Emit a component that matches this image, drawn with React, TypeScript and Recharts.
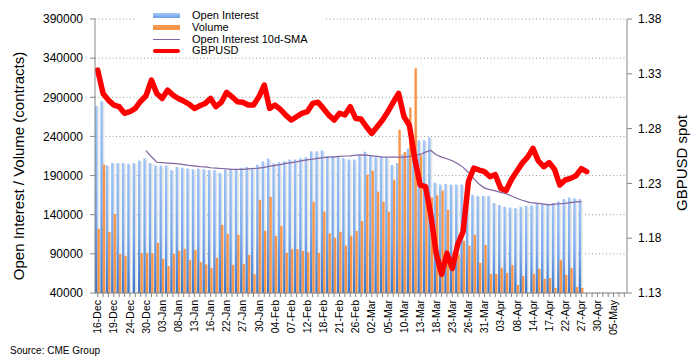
import React from 'react';
import { ComposedChart, Bar, Line, XAxis, YAxis, CartesianGrid } from 'recharts';

// trading days shown on the category axis (a label every third day)
const dates = [
  '16-Dec', '17-Dec', '18-Dec', '19-Dec', '20-Dec', '23-Dec', '24-Dec', '26-Dec', '27-Dec', '30-Dec',
  '31-Dec', '02-Jan', '03-Jan', '06-Jan', '07-Jan', '08-Jan', '09-Jan', '10-Jan', '13-Jan', '14-Jan',
  '15-Jan', '16-Jan', '17-Jan', '21-Jan', '22-Jan', '23-Jan', '24-Jan', '27-Jan', '28-Jan', '29-Jan',
  '30-Jan', '31-Jan', '03-Feb', '04-Feb', '05-Feb', '06-Feb', '07-Feb', '10-Feb', '11-Feb', '12-Feb',
  '13-Feb', '14-Feb', '18-Feb', '19-Feb', '20-Feb', '21-Feb', '24-Feb', '25-Feb', '26-Feb', '27-Feb',
  '28-Feb', '02-Mar', '03-Mar', '04-Mar', '05-Mar', '06-Mar', '09-Mar', '10-Mar', '11-Mar', '12-Mar',
  '13-Mar', '16-Mar', '17-Mar', '18-Mar', '19-Mar', '20-Mar', '23-Mar', '24-Mar', '25-Mar', '26-Mar',
  '27-Mar', '30-Mar', '31-Mar', '01-Apr', '02-Apr', '03-Apr', '06-Apr', '07-Apr', '08-Apr', '09-Apr',
  '13-Apr', '14-Apr', '15-Apr', '16-Apr', '17-Apr', '20-Apr', '21-Apr', '22-Apr', '23-Apr', '24-Apr',
  '27-Apr', '28-Apr', '29-Apr', '30-Apr', '01-May', '04-May', '05-May', '06-May', '07-May',
];

const openInterest = [
  279000, 285000, 203000, 206000, 206000, 206000, 205000, 206000, 209000, 212000,
  206000, 203000, 203000, 203000, 197000, 201000, 200000, 199000, 198000, 199000,
  198000, 197000, 197000, 193500, 197500, 197500, 197500, 200000, 201000, 200000,
  204000, 208000, 211500, 205500, 207000, 208500, 210500, 210500, 212000, 213500,
  221000, 221000, 222000, 215000, 215000, 213500, 212500, 210500, 210500, 215500,
  220500, 216000, 213500, 213500, 212500, 203500, 206000, 217000, 224500, 219000,
  235000, 235000, 239000, 181000, 178500, 179500, 178500, 178500, 178500, 169500,
  165500, 164000, 164000, 164000, 155000, 152500, 150200, 149200, 148500, 150200,
  151500, 152000, 154500, 154000, 154000, 155000, 157000, 160000, 162000, 161000,
  160000,
];

const volume = [
  122000, 204000, 118000, 141000, 90000, 87500, null, null, 91000, 91000,
  91000, 104000, 83500, 74500, 90000, 94000, 96500, 82000, 95000, 79500,
  76500, 72000, 85000, 127000, 115500, 76000, 114500, 77000, 88500, 64000,
  159000, 119500, 163000, 113000, 125800, 91400, 96000, 96000, 93800, 92000,
  156700, 91400, 143900, 116000, 110600, 118200, 100500, 113000, 119300, 132000,
  191000, 196000, 169500, 156700, 143900, 184600, 248600, 220000, 277000, 327000,
  216000, 178000, 162000, 164800, 170800, 146200, 92000, 88600, 106600, 100400,
  114300, 78600, 101400, 64400, 64400, 72100, 65600, 75900, 50300, 61800,
  null, 64400, 70800, 58000, 59200, 46400, 82300, 63100, 72100, 47700,
  46400,
];

const oiSma = [
  null, null, null, null, null, null, null, null, null, 222000,
  214000, 207000, 206500, 206000, 205500, 205000, 204000, 203000, 202500, 201500,
  201000, 200000, 199500, 199000, 198500, 198000, 198000, 198000, 198500, 199000,
  199500, 200500, 202000, 203000, 204000, 205500, 206500, 207500, 209000, 210000,
  211000, 212000, 213000, 213500, 214000, 214500, 215000, 215200, 216000, 216500,
  216000, 215200, 214500, 213500, 213500, 213500, 213500, 213500, 214500, 216000,
  217000, 220000, 222000, 216500, 213500, 211500, 209000, 205000, 200500, 194000,
  186000, 179000, 174000, 172000, 170500, 168500, 167000, 164000, 161000, 158500,
  156500, 155000, 154600, 153500, 152500, 153500, 154000, 154600, 155500, 156500,
  156600,
];

const gbpusd = [
  1.3334, 1.3121, 1.306, 1.3015, 1.3, 1.294, 1.2954, 1.2984, 1.305, 1.31,
  1.3243, 1.3121, 1.3075, 1.3151, 1.3106, 1.3075, 1.3051, 1.3024, 1.2984, 1.3008,
  1.303, 1.3075, 1.3, 1.304, 1.313, 1.309, 1.3045, 1.304, 1.3015, 1.3015,
  1.309, 1.3197, 1.2984, 1.3015, 1.2975, 1.2923, 1.2878, 1.2908, 1.2939, 1.2954,
  1.303, 1.304, 1.2984, 1.2923, 1.2878, 1.294, 1.2925, 1.3, 1.2893, 1.2887,
  1.2817, 1.2756, 1.2817, 1.2878, 1.2954, 1.3039, 1.3121, 1.2908, 1.283, 1.2528,
  1.2285, 1.227, 1.2011, 1.166, 1.147, 1.1662, 1.1525, 1.1745, 1.186, 1.232,
  1.244, 1.2422, 1.2407, 1.2361, 1.238, 1.2255, 1.2235, 1.2335, 1.241, 1.2485,
  1.254, 1.262, 1.2505, 1.2452, 1.249, 1.243, 1.2285, 1.2331, 1.2346, 1.237,
  1.2435, 1.2407,
];

const leftTicks = [40000, 90000, 140000, 190000, 240000, 290000, 340000, 390000];
const rightTicks = [1.13, 1.18, 1.23, 1.28, 1.33, 1.38];

const chartData = dates.map((date, i) => ({
  date,
  oi: openInterest[i] ?? null,
  vol: volume[i] ?? null,
  sma: oiSma[i] ?? null,
  spot: gbpusd[i] ?? null,
}));

const FONT = '"Liberation Sans", Arial, Helvetica, sans-serif';

const legendItems = [
  { name: 'Open Interest', kind: 'bar', color: '#7fb0ee' },
  { name: 'Volume', kind: 'bar', color: '#f7964a' },
  { name: 'Open Interest 10d-SMA', kind: 'thin', color: '#8064a2' },
  { name: 'GBPUSD', kind: 'thick', color: '#ff0000' },
];

// blue open-interest bar with the soft grey shadow excel puts beside it
const OiBar = (props: any) => {
  const { x, y, width, height } = props;
  if (!height || height <= 0) return <g />;
  return (
    <g>
      <rect x={x + width} y={y + 1} width={width * 0.8} height={height - 1} fill="url(#oiShadow)" />
      <rect x={x} y={y} width={width} height={height} fill="url(#oiGrad)" />
    </g>
  );
};

const DateTick = (props: any) => {
  const { x, y, payload, index } = props;
  if (index % 3 !== 0) return <g />;
  return (
    <text
      x={x}
      y={y}
      transform={`rotate(-90 ${x} ${y})`}
      textAnchor="end"
      dy="0.35em"
      fontSize={10.5}
      fontFamily={FONT}
      fill="#000"
    >
      {payload.value}
    </text>
  );
};

const axisTitle = (text: string, cx: number, cy: number) => () => (
  <text
    x={cx}
    y={cy}
    transform={`rotate(-90 ${cx} ${cy})`}
    textAnchor="middle"
    dominantBaseline="central"
    fontSize={15}
    fontFamily={FONT}
    fill="#000"
  >
    {text}
  </text>
);

export default function App() {
  return (
    <div style={{ position: 'absolute', left: 0, top: 0, width: 697, height: 363, background: '#fff', fontFamily: FONT }}>
      <ComposedChart
        width={697}
        height={363}
        data={chartData}
        margin={{ top: 19, right: 0, bottom: 20, left: 0 }}
        barGap={0}
        barCategoryGap={0}
      >
        <defs>
          <linearGradient id="oiGrad" x1="0" y1="0" x2="0" y2="1">
            <stop offset="0%" stopColor="#9ec4f7" />
            <stop offset="55%" stopColor="#7aaaec" />
            <stop offset="100%" stopColor="#3b77c9" />
          </linearGradient>
          <linearGradient id="oiShadow" x1="0" y1="0" x2="1" y2="0">
            <stop offset="0%" stopColor="#dcdcdc" />
            <stop offset="100%" stopColor="#f4f4f4" />
          </linearGradient>
        </defs>
        <CartesianGrid
          yAxisId="left"
          vertical={false}
          stroke="#9a9a9a"
          strokeDasharray="1 2.5"
        />
        <XAxis
          dataKey="date"
          interval={0}
          height={50}
          tick={DateTick}
          tickSize={4}
          tickMargin={3}
          axisLine={{ stroke: '#868686' }}
          tickLine={{ stroke: '#868686' }}
        />
        <YAxis
          yAxisId="left"
          width={95}
          domain={[40000, 390000]}
          ticks={leftTicks}
          allowDataOverflow
          tickSize={5}
          tickMargin={7}
          tick={{ fontSize: 12, fill: '#000', fontFamily: FONT }}
          axisLine={{ stroke: '#868686' }}
          tickLine={{ stroke: '#868686' }}
          label={{ content: axisTitle('Open Interest / Volume (contracts)', 18, 166) }}
        />
        <YAxis
          yAxisId="right"
          orientation="right"
          width={70}
          domain={[1.13, 1.38]}
          ticks={rightTicks}
          allowDataOverflow
          tickFormatter={(v: number) => v.toFixed(2)}
          tickSize={5}
          tickMargin={6}
          tick={{ fontSize: 12, fill: '#000', fontFamily: FONT }}
          axisLine={{ stroke: '#868686' }}
          tickLine={{ stroke: '#868686' }}
          label={{ content: axisTitle('GBPUSD spot', 681, 163) }}
        />
        <Bar yAxisId="left" dataKey="oi" barSize={3} shape={OiBar} isAnimationActive={false} />
        <Bar yAxisId="left" dataKey="vol" barSize={3} fill="#f7964a" isAnimationActive={false} />
        <Line
          yAxisId="left"
          dataKey="sma"
          type="linear"
          stroke="#8064a2"
          strokeWidth={1.2}
          dot={false}
          isAnimationActive={false}
        />
        <Line
          yAxisId="right"
          dataKey="spot"
          type="linear"
          stroke="#ff0000"
          strokeWidth={5.5}
          strokeLinejoin="round"
          strokeLinecap="round"
          dot={false}
          isAnimationActive={false}
        />
      </ComposedChart>

      <div
        style={{
          position: 'absolute',
          left: 136,
          top: 9,
          width: 190,
          height: 48,
          background: '#fff',
          fontSize: 11,
          color: '#000',
        }}
      >
        {legendItems.map((item, i) => (
          <div
            key={item.name}
            style={{ position: 'absolute', left: 0, top: 1 + i * 11.8, height: 11.8, display: 'flex', alignItems: 'center' }}
          >
            <div style={{ width: 17 }} />
            <div
              style={{
                width: 27,
                height: item.kind === 'bar' ? 5 : item.kind === 'thin' ? 1 : 4,
                borderRadius: item.kind === 'thick' ? 2 : 0,
                background: item.kind === 'bar' && i === 0 ? 'linear-gradient(#a6c9f7, #6b9fe4)' : item.color,
              }}
            />
            <span style={{ marginLeft: 12, lineHeight: '11.8px', whiteSpace: 'nowrap' }}>{item.name}</span>
          </div>
        ))}
      </div>

      <div style={{ position: 'absolute', left: 10, top: 345, fontSize: 10, color: '#000' }}>Source: CME Group</div>
    </div>
  );
}
